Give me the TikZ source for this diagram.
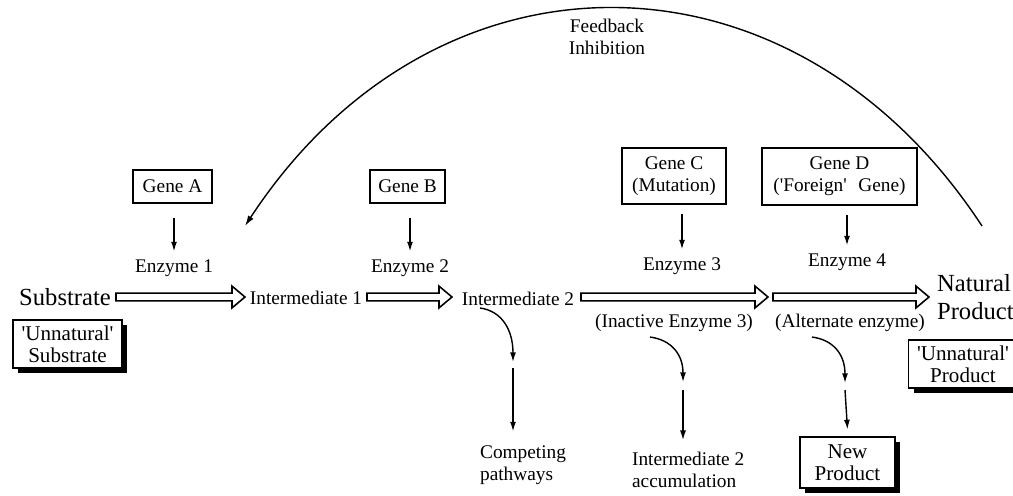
\documentclass[tikz,border=0pt]{standalone}
\usepackage{fontspec}
\setmainfont{Liberation Serif}
\usetikzlibrary{arrows.meta,shadows,calc}
\newcommand\sq{\textquotesingle}
\newcommand\fatarrow[2]{\draw[fatarr] let \p1=(#1), \p2=(#2) in
  (\x1,\y1+2.2pt) -- (\x2-7.4pt,\y1+2.2pt) -- (\x2-7.4pt,\y1+6.2pt) -- (\x2,\y1)
  -- (\x2-7.4pt,\y1-6.2pt) -- (\x2-7.4pt,\y1-2.2pt) -- (\x1,\y1-2.2pt) -- cycle;}
\tikzset{
  lbl/.style={font=\fontsize{11}{12.5}\selectfont, inner sep=1pt, align=center},
  big/.style={font=\fontsize{14}{16}\selectfont, inner sep=1pt},
  genebox/.style={draw, line width=0.8pt, font=\fontsize{11}{12.5}\selectfont, align=center, inner sep=1pt},
  shbox/.style={draw, line width=0.6pt, fill=white, font=\fontsize{12}{12.5}\selectfont,
    align=center, inner sep=1pt,
    drop shadow={shadow xshift=0.1cm, shadow yshift=-0.1cm, fill=black, opacity=1}},
  thinarr/.style={line width=0.8pt, -{Latex[length=5.5pt,width=3.4pt]}},
  fatarr/.style={line width=0.9pt, line join=miter},
  fbarr/.style={line width=0.8pt, -{Latex[length=6pt,width=3.6pt]}},
}
\begin{document}
\begin{tikzpicture}[x=0.02cm,y=-0.02cm]
\useasboundingbox (0,0) rectangle (1013,495);

% gene boxes
\node[genebox, minimum width=1.58cm, minimum height=0.66cm] (gA) at (172.5,186.5) {Gene A};
\node[genebox, minimum width=1.5cm, minimum height=0.66cm] (gB) at (407.5,186.5) {Gene B};
\node[genebox, minimum width=2.08cm, minimum height=1.12cm] (gC) at (674,176) {Gene C\\(Mutation)};
\node[genebox, minimum width=3.1cm, minimum height=1.14cm] (gD) at (839.5,176.5) {Gene D\\(\sq Foreign\sq\hspace{0.35em} Gene)};

% enzymes
\node[lbl] (en1) at (174,268) {Enzyme 1};
\node[lbl] (en2) at (410,268) {Enzyme 2};
\node[lbl] (en3) at (682,266) {Enzyme 3};
\node[lbl] (en4) at (847,262) {Enzyme 4};

\draw[thinarr] ($(en1.north |- gA.south)+(0,14)$) -- ($(en1.north)+(0,-6)$);
\draw[thinarr] ($(en2.north |- gB.south)+(0,14)$) -- ($(en2.north)+(0,-6)$);
\draw[thinarr] ($(en3.north |- gC.south)+(0,9)$) -- ($(en3.north)+(0,-6)$);
\draw[thinarr] ($(en4.north |- gD.south)+(0,9)$) -- ($(en4.north)+(0,-6)$);

% main row
\node[big] (sub) at (65,297) {Substrate};
\node[lbl] (int1) at (306,298) {Intermediate 1};
\node[lbl] (int2) at (518,299) {Intermediate 2};
\node[big, anchor=west, align=left] (nat) at (935,297) {Natural\\Product};

\coordinate (a1s) at (116,297); \coordinate (a1e) at (245,297);
\coordinate (a2s) at (367,297); \coordinate (a2e) at (452,297);
\coordinate (a3s) at (581,297); \coordinate (a3e) at (768,297);
\coordinate (a4s) at (773,297); \coordinate (a4e) at (929,297);
\fatarrow{a1s}{a1e}
\fatarrow{a2s}{a2e}
\fatarrow{a3s}{a3e}
\fatarrow{a4s}{a4e}

\node[lbl] (ie3) at (674,323) {(Inactive Enzyme 3)};
\node[lbl] (alt) at (850,323) {(Alternate enzyme)};

% shadow boxes
\node[shbox, minimum width=2.18cm, minimum height=0.96cm] (usub) at (67.5,344) {\sq Unnatural\sq\\ Substrate};
\node[shbox, minimum width=2.18cm, minimum height=0.96cm] (uprod) at (963,364) {\sq Unnatural\sq\\Product};
\node[shbox, minimum width=1.9cm, minimum height=1.02cm] (newp) at (847.5,462.5) {New\\Product};

% bottom labels
\node[lbl, anchor=west, align=left] (comp) at (478,465) {Competing\\pathways};
\node[lbl, anchor=west, align=left] (acc) at (630,470) {Intermediate 2\\accumulation};

% branch arrows
\coordinate (c1s) at (480,308); \coordinate (c1e) at (513,362); \coordinate (s1s) at (513,368);
\draw[thinarr] (c1s) .. controls (502,311) and (513,330) .. (c1e);
\draw[thinarr] (s1s) -- ($(comp.north west -| s1s)+(0,-12)$);

\coordinate (c2s) at (650,337); \coordinate (c2e) at (683,382); \coordinate (s2s) at (683,390);
\draw[thinarr] (c2s) .. controls (672,340) and (683,355) .. (c2e);
\draw[thinarr] (s2s) -- ($(acc.north west -| s2s)+(0,-10)$);

\coordinate (c3s) at (812,337); \coordinate (c3e) at (845,383); \coordinate (s3s) at (845,390);
\draw[thinarr] (c3s) .. controls (834,340) and (845,355) .. (c3e);
\draw[thinarr] (s3s) -- ($(newp.north)+(0,-7)$);

% feedback inhibition
\node[lbl] (fb) at (607,37) {Feedback\\Inhibition};
\coordinate (fbR) at (982,226); \coordinate (fbL) at (245,226);
\draw[fbarr] (fbR) .. controls (792,-64) and (435,-64) .. (fbL);
\end{tikzpicture}
\end{document}
